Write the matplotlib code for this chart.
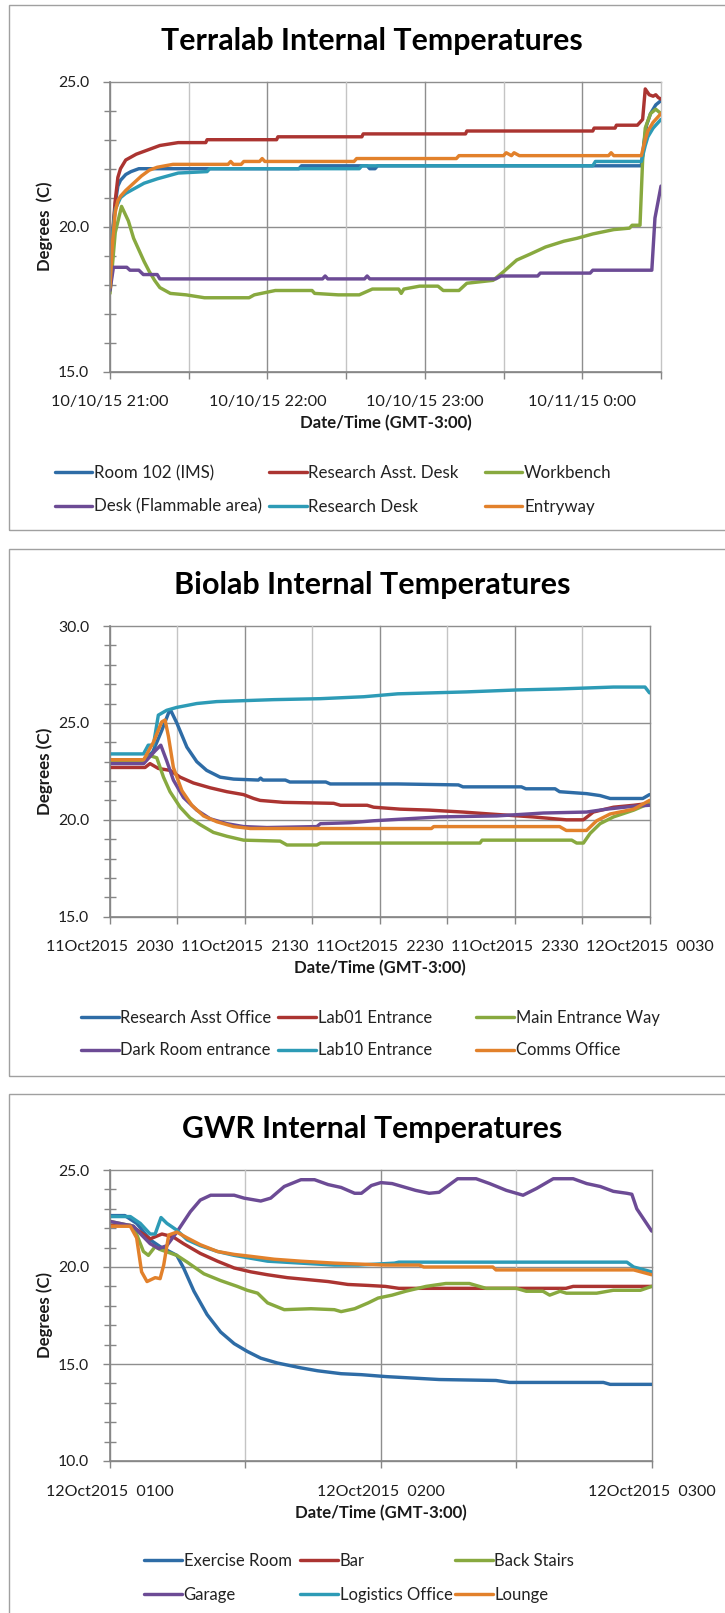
import matplotlib
matplotlib.use("Agg")
import matplotlib.pyplot as plt
from matplotlib.patches import Rectangle
from matplotlib.ticker import MultipleLocator

plt.rcParams['font.family'] = ['Lato', 'DejaVu Sans']

W, H = 725, 1613
COLORS = ['#2E6CA6', '#AB3431', '#88A93F', '#6C4B95', '#2D9BB6', '#E2812B']

# ---------------- Terralab (minutes after 10/10/15 21:00) ----------------
terra_names = ['Room 102 (IMS)', 'Research Asst. Desk', 'Workbench',
               'Desk (Flammable area)', 'Research Desk', 'Entryway']
terra_ticklabels = ['10/10/15 21:00', '', '10/10/15 22:00', '', '10/10/15 23:00', '',
                    '10/11/15 0:00', '']

terra_room102_t = [0, 1, 2, 3, 4, 6, 8, 11, 14, 72, 73, 98, 99, 101, 102, 200,
                   202.5, 203.5, 204.5, 206, 208, 210]
terra_room102_v = [17.9, 19.6, 20.8, 21.4, 21.6, 21.8, 21.9, 22.0, 22.0, 22.0, 22.1, 22.1,
                   22.0, 22.0, 22.1, 22.1, 22.1, 22.9, 23.5, 23.9, 24.2, 24.35]

terra_radesk_t = [0, 1, 2, 3, 4, 5, 6, 8, 10, 13, 16, 19, 26, 36.5, 37, 63.5, 64, 96, 96.5,
                  135.5, 136, 184, 184.5, 192.5, 193, 201, 202, 203, 204, 205.5, 207, 208,
                  209, 210]
terra_radesk_v = [18.5, 19.8, 20.9, 21.7, 22.0, 22.15, 22.3, 22.4, 22.5, 22.6, 22.7, 22.8,
                  22.9, 22.9, 23.0, 23.0, 23.1, 23.1, 23.2, 23.2, 23.3, 23.3, 23.4, 23.4,
                  23.5, 23.5, 23.6, 23.7, 24.75, 24.55, 24.5, 24.55, 24.45, 24.4]

terra_bench_t = [0, 2, 4.4, 7, 9, 11, 13, 15, 17, 19, 21, 23, 29, 36, 53, 55, 63, 77, 78,
                 87, 95, 100, 110, 111, 112, 118, 125, 127, 133, 136, 146, 150, 155, 160,
                 166, 173, 178, 184, 192, 198, 199, 202, 203, 204, 206, 208, 210]
terra_bench_v = [17.7, 19.8, 20.7, 20.2, 19.6, 19.2, 18.8, 18.45, 18.15, 17.9, 17.8, 17.7,
                 17.65, 17.55, 17.55, 17.65, 17.8, 17.8, 17.7, 17.65, 17.65, 17.85, 17.85,
                 17.7, 17.85, 17.95, 17.95, 17.8, 17.8, 18.05, 18.15, 18.45, 18.85, 19.05,
                 19.3, 19.5, 19.6, 19.75, 19.9, 19.95, 20.05, 20.05, 22.3, 23.4, 23.9,
                 24.05, 23.9]

terra_flam_t = [0, 1.3, 6.4, 7.6, 11, 12.7, 18, 19, 81, 82, 83, 97, 98, 99, 147, 149, 163,
                164, 183, 184, 206.5, 207.7, 210]
terra_flam_v = [17.8, 18.6, 18.6, 18.5, 18.5, 18.35, 18.35, 18.2, 18.2, 18.3, 18.2, 18.2,
                18.3, 18.2, 18.2, 18.3, 18.3, 18.4, 18.4, 18.5, 18.5, 20.3, 21.4]

terra_rdesk_t = [0, 1, 2, 4, 6, 9, 13, 18, 22, 26, 37, 38, 95, 96, 184, 185, 202.5, 204,
                 205, 207, 210]
terra_rdesk_v = [18.0, 19.8, 20.6, 21.0, 21.15, 21.3, 21.5, 21.65, 21.75, 21.85, 21.9, 22.0,
                 22.0, 22.1, 22.1, 22.25, 22.25, 22.8, 23.1, 23.4, 23.7]

terra_entry_t = [0, 1, 2, 3, 4, 6, 9, 12, 15, 18, 21, 24, 45, 46, 47, 50, 51, 57, 58, 59,
                 93, 94, 132, 133, 150, 151, 153, 154, 156, 157, 190, 191, 192, 202.5, 204,
                 205, 207, 210]
terra_entry_v = [17.9, 19.5, 20.5, 20.9, 21.05, 21.25, 21.5, 21.75, 21.95, 22.05, 22.1,
                 22.15, 22.15, 22.25, 22.15, 22.15, 22.25, 22.25, 22.35, 22.25, 22.25, 22.35,
                 22.35, 22.45, 22.45, 22.55, 22.45, 22.55, 22.45, 22.45, 22.45, 22.55, 22.45,
                 22.45, 23.0, 23.3, 23.6, 23.9]

# ---------------- Biolab (minutes after 11Oct2015 2030) ----------------
bio_names = ['Research Asst Office', 'Lab01 Entrance', 'Main Entrance Way',
             'Dark Room entrance', 'Lab10 Entrance', 'Comms Office']
bio_ticklabels = ['11Oct2015  2030', '', '11Oct2015  2130', '', '11Oct2015  2230', '',
                  '11Oct2015  2330', '', '12Oct2015  0030']

bio_raoffice_t = [0, 15, 19, 23, 26, 27, 29.7, 34.2, 38.6, 43, 49, 55, 66, 67, 68, 78, 80,
                  96, 98, 128, 155, 157, 183, 185, 198, 200, 212, 218, 222.5, 237, 240]
bio_raoffice_v = [23.1, 23.1, 23.5, 24.6, 25.5, 25.65, 25.0, 23.75, 23.0, 22.55, 22.2, 22.1,
                  22.05, 22.15, 22.05, 22.05, 21.95, 21.95, 21.85, 21.85, 21.8, 21.7, 21.7,
                  21.6, 21.6, 21.45, 21.35, 21.25, 21.1, 21.1, 21.3]

bio_lab01_t = [0, 15.6, 17.8, 21.5, 26.7, 31.2, 37.1, 44.6, 52, 59.4, 63.9, 66.8, 77.2,
               99.5, 102.5, 114.4, 117.3, 129, 142, 157, 169, 188, 203, 210.6, 215, 224,
               233, 240]
bio_lab01_v = [22.7, 22.7, 22.9, 22.65, 22.55, 22.2, 21.9, 21.65, 21.45, 21.3, 21.1, 21.0,
               20.9, 20.85, 20.75, 20.75, 20.65, 20.55, 20.5, 20.4, 20.3, 20.15, 20.0, 20.0,
               20.4, 20.65, 20.75, 20.85]

bio_mainent_t = [0, 15, 18, 20.8, 23.8, 26.7, 31.2, 35.6, 40.1, 46, 52, 59.4, 75.7, 78.7,
                 92, 93.6, 164.6, 165.5, 205.4, 207.6, 210.6, 213.6, 218, 224, 233, 240]
bio_mainent_v = [23.0, 23.0, 23.3, 23.2, 22.2, 21.45, 20.65, 20.1, 19.75, 19.35, 19.15,
                 18.95, 18.9, 18.7, 18.7, 18.8, 18.8, 18.95, 18.95, 18.8, 18.8, 19.3, 19.8,
                 20.15, 20.5, 20.85]

bio_darkroom_t = [0, 15, 20, 22.6, 25.2, 28.2, 32.7, 38.6, 44.6, 52, 59.4, 69.8, 92, 93.6,
                  107, 117.3, 131.9, 146.7, 172, 192.8, 212, 221, 233, 240]
bio_darkroom_v = [22.9, 22.9, 23.55, 23.85, 23.05, 22.05, 21.15, 20.5, 20.05, 19.8, 19.65,
                  19.6, 19.65, 19.8, 19.85, 19.95, 20.05, 20.15, 20.2, 20.35, 20.4, 20.55,
                  20.7, 20.75]

bio_lab10_t = [0, 14.9, 17, 19.3, 21.5, 25.2, 29.7, 34.2, 38.6, 47.5, 72.8, 93.6, 112.9,
               128, 158.6, 181, 199.5, 224, 238, 240]
bio_lab10_v = [23.4, 23.4, 23.85, 23.85, 25.4, 25.65, 25.8, 25.9, 26.0, 26.1, 26.2, 26.25,
               26.35, 26.5, 26.6, 26.7, 26.75, 26.85, 26.85, 26.55]

bio_comms_t = [0, 15, 19.3, 23, 24.5, 26, 28.2, 32, 36.4, 41.6, 47.5, 55, 62.4, 143, 144,
               200, 203, 212, 216.5, 222.5, 233, 240]
bio_comms_v = [23.1, 23.1, 24.0, 25.05, 25.15, 24.3, 22.7, 21.5, 20.75, 20.2, 19.9, 19.65,
               19.55, 19.55, 19.65, 19.65, 19.45, 19.45, 19.95, 20.3, 20.55, 21.0]

# ---------------- GWR (minutes after 12Oct2015 0100) ----------------
gwr_names = ['Exercise Room', 'Bar', 'Back Stairs', 'Garage', 'Logistics Office', 'Lounge']
gwr_ticklabels = ['12Oct2015  0100', '', '12Oct2015  0200', '', '12Oct2015  0300']

gwr_exercise_t = [0, 3.3, 5.9, 8.9, 11.1, 14.8, 16.3, 18.6, 21.5, 24.5, 27.5, 30.4, 33.4,
                  37.1, 42.3, 46, 51.2, 55.7, 61.2, 72.9, 85.5, 88.5, 109.3, 110.8, 120]
gwr_exercise_v = [22.65, 22.65, 22.25, 21.4, 21.05, 20.6, 19.95, 18.75, 17.55, 16.65, 16.05,
                  15.65, 15.3, 15.05, 14.8, 14.65, 14.5, 14.45, 14.35, 14.2, 14.15, 14.05,
                  14.05, 13.95, 13.95]

gwr_bar_t = [0, 4.5, 6.7, 8.9, 11.5, 14, 16.3, 20, 23.8, 27.5, 31.2, 34.9, 39.3, 43.8,
             48.3, 52.7, 57.2, 61, 64, 101, 102.6, 120]
gwr_bar_v = [22.15, 22.15, 21.8, 21.45, 21.7, 21.55, 21.2, 20.7, 20.3, 19.95, 19.75, 19.6,
             19.45, 19.35, 19.25, 19.1, 19.05, 19.0, 18.9, 18.9, 19.0, 19.0]

gwr_stairs_t = [0, 5.2, 7.4, 8.5, 10, 11.1, 14.8, 17.1, 20.8, 24.5, 28.2, 30.4, 32.7, 34.9,
                38.6, 44.5, 49.7, 51.2, 54.2, 57.2, 59.4, 62.5, 65.5, 70, 74.4, 79.6, 83.3,
                90, 92.2, 95.9, 97.4, 99.7, 101.1, 107.8, 111.5, 117.5, 120]
gwr_stairs_v = [22.35, 22.1, 20.8, 20.6, 21.05, 20.9, 20.6, 20.25, 19.65, 19.3, 19.0, 18.8,
                18.65, 18.15, 17.8, 17.85, 17.8, 17.7, 17.85, 18.15, 18.4, 18.55, 18.75,
                19.0, 19.15, 19.15, 18.9, 18.9, 18.75, 18.75, 18.55, 18.75, 18.65, 18.65,
                18.8, 18.8, 19.0]

gwr_garage_t = [0, 5.2, 7, 8.9, 10.8, 12.6, 14.8, 17.8, 20, 22.3, 27.5, 29.7, 33.4, 35.6,
                38.6, 42.3, 45.3, 48.3, 51.2, 54.2, 55.7, 57.9, 60, 62.5, 67.7, 70.7, 72.9,
                77, 81.1, 84.1, 87.8, 91.5, 94.5, 98.2, 102.6, 105.6, 108.6, 111.5, 114.5,
                115.6, 116.7, 120]
gwr_garage_v = [22.35, 22.1, 21.65, 21.2, 20.95, 21.1, 21.8, 22.85, 23.45, 23.7, 23.7,
                23.55, 23.4, 23.55, 24.15, 24.5, 24.5, 24.25, 24.1, 23.8, 23.8, 24.2, 24.35,
                24.3, 23.95, 23.8, 23.85, 24.55, 24.55, 24.3, 23.95, 23.7, 24.05, 24.55,
                24.55, 24.3, 24.15, 23.9, 23.8, 23.75, 23.0, 21.85]

gwr_logistics_t = [0, 4.5, 6.7, 8.9, 10, 11.3, 12.6, 14.8, 17.1, 20, 23.8, 27.5, 31.2,
                   34.9, 42.3, 49.7, 55, 63, 64, 114.5, 116, 120]
gwr_logistics_v = [22.6, 22.6, 22.25, 21.7, 21.7, 22.55, 22.25, 21.9, 21.4, 21.1, 20.8,
                   20.6, 20.45, 20.3, 20.2, 20.1, 20.1, 20.2, 20.25, 20.25, 20.0, 19.75]

gwr_lounge_t = [0, 4.5, 5.9, 7, 8.2, 10, 11.1, 11.9, 13, 14.8, 17.1, 20, 23.8, 27.5, 31.2,
                36.4, 42.3, 49.7, 61, 68.5, 69.5, 84.8, 85.5, 116, 120]
gwr_lounge_v = [22.1, 22.1, 21.5, 19.75, 19.25, 19.45, 19.4, 20.1, 21.65, 21.8, 21.5, 21.15,
                20.8, 20.65, 20.55, 20.4, 20.3, 20.2, 20.1, 20.1, 20.0, 20.0, 19.85, 19.85,
                19.6]

fig = plt.figure(figsize=(W / 100, H / 100), dpi=100)
fig.patch.set_facecolor('white')
renderer = fig.canvas.get_renderer()


def fx(px):
    return px / W


def fy(py):
    return 1 - py / H


def fit_size(text, width_px, weight='normal'):
    """Font size (pt) at which `text` spans width_px pixels."""
    probe = fig.text(0, 0, text, fontsize=20, fontweight=weight)
    w = probe.get_window_extent(renderer).width
    probe.remove()
    return 20 * width_px / w


def frame(top, bottom):
    fig.add_artist(Rectangle((fx(9.3), fy(bottom)), fx(760), fy(top) - fy(bottom),
                             transform=fig.transFigure, fill=False,
                             edgecolor='#A0A0A0', linewidth=1.0))


def chart(left, right, top, bottom, title, title_w, title_base, series, names, xmax,
          ticklabels, xtick_w, ymin, ymax, ylabel, ylabel_w, xlabel_base,
          legend_x, legend_y, legend_w):
    ax = fig.add_axes([fx(left), fy(bottom), fx(right - left), fy(top) - fy(bottom)])
    lines = []
    for (t, v), c in zip(series, COLORS):
        ln, = ax.plot(t, v, color=c, lw=2.45, solid_joinstyle='round',
                      solid_capstyle='round', zorder=2)
        lines.append(ln)
    ax.set_xlim(0, xmax)

    xt = list(range(0, xmax + 1, 30))
    ax.set_xticks(xt)
    ax.set_xticklabels(ticklabels)
    yt = list(range(ymin, ymax + 1, 5))
    ax.set_yticks(yt)
    ax.set_yticklabels([f'{y:.1f}' for y in yt])
    ax.yaxis.set_minor_locator(MultipleLocator(1))
    ax.set_ylim(ymin, ymax)

    xs = fit_size(ticklabels[0], xtick_w)
    ys = fit_size('25.0', 31)
    ax.tick_params(axis='x', which='major', direction='out', length=5, width=1,
                   color='#868686', pad=12, labelsize=xs, labelcolor='#1e1e1e')
    ax.tick_params(axis='y', which='major', direction='out', length=5, width=1,
                   color='#868686', pad=10, labelsize=ys, labelcolor='#1e1e1e')
    ax.tick_params(axis='y', which='minor', direction='inout', length=9, width=1,
                   color='#868686')

    # horizontal gridlines on the major temperature steps
    for y in yt:
        ax.axhline(y, color='#8E8E8E', lw=1.0, zorder=0.5, clip_on=False)
    # vertical gridlines: darker on labelled times, lighter in between
    for x, lab in zip(xt, ticklabels):
        ax.axvline(x, color='#8E8E8E' if lab else '#C4C4C4', lw=1.0, zorder=0.5,
                   clip_on=False)

    for s in ('top', 'right'):
        ax.spines[s].set_visible(False)
    for s in ('left', 'bottom'):
        ax.spines[s].set_color('#868686')
        ax.spines[s].set_linewidth(1.2)
        ax.spines[s].set_zorder(3)

    h = bottom - top
    wdt = right - left
    ax.set_title(title, fontsize=fit_size(title, title_w, 'bold'), fontweight='bold',
                 color='black', x=(372 - left) / wdt, y=1 + (top - title_base) / h,
                 va='baseline', pad=0)
    xl = 'Date/Time (GMT-3:00)'
    ax.set_xlabel(xl, fontsize=fit_size(xl, 173, 'bold'), fontweight='bold',
                  color='#1a1a1a')
    ax.xaxis.set_label_coords(0.5, -(xlabel_base - bottom) / h)
    ax.xaxis.label.set_verticalalignment('baseline')
    ax.set_ylabel(ylabel, fontsize=fit_size(ylabel, ylabel_w, 'bold'), fontweight='bold',
                  color='#1a1a1a')
    ax.yaxis.set_label_coords((44.5 - left) / wdt, 0.5)
    ax.yaxis.label.set_verticalalignment('center')

    fs = fit_size(names[0], legend_w)
    fpx = fs * 100 / 72
    for i, name in enumerate(names):
        fig.legend([lines[i]], [name], loc='center left',
                   bbox_to_anchor=(fx(legend_x[i % 3]), fy(legend_y[i // 3])),
                   frameon=False, borderpad=0, borderaxespad=0,
                   handlelength=37.5 / fpx, handletextpad=2.0 / fpx,
                   fontsize=fs, labelcolor='#222222')
    return ax


frame(5, 530.3)
frame(549.3, 1075.9)
frame(1093.5, 1650)

terra_series = [(terra_room102_t, terra_room102_v), (terra_radesk_t, terra_radesk_v),
                (terra_bench_t, terra_bench_v), (terra_flam_t, terra_flam_v),
                (terra_rdesk_t, terra_rdesk_v), (terra_entry_t, terra_entry_v)]
bio_series = [(bio_raoffice_t, bio_raoffice_v), (bio_lab01_t, bio_lab01_v),
              (bio_mainent_t, bio_mainent_v), (bio_darkroom_t, bio_darkroom_v),
              (bio_lab10_t, bio_lab10_v), (bio_comms_t, bio_comms_v)]
gwr_series = [(gwr_exercise_t, gwr_exercise_v), (gwr_bar_t, gwr_bar_v),
              (gwr_stairs_t, gwr_stairs_v), (gwr_garage_t, gwr_garage_v),
              (gwr_logistics_t, gwr_logistics_v), (gwr_lounge_t, gwr_lounge_v)]

chart(110, 661, 81.7, 371.7, 'Terralab Internal Temperatures', 421, 50, terra_series,
      terra_names, 210, terra_ticklabels, 117, 15, 25, 'Degrees  (C)', 90, 428.3,
      (54.5, 269, 484.5), (473.3, 506.7), 120)
chart(110, 649.5, 626, 916.7, 'Biolab Internal Temperatures', 396, 594, bio_series,
      bio_names, 240, bio_ticklabels, 127, 15, 30, 'Degrees (C)', 88, 973.5,
      (81, 278, 476), (1017.6, 1050.3), 151.5)
chart(110, 651.7, 1170, 1461, 'GWR Internal Temperatures', 379, 1137.6, gwr_series,
      gwr_names, 120, gwr_ticklabels, 127, 10, 25, 'Degrees (C)', 86.4, 1517.8,
      (144, 300, 455), (1561, 1595), 108)

fig.savefig('out.png', dpi=100, facecolor='white')
